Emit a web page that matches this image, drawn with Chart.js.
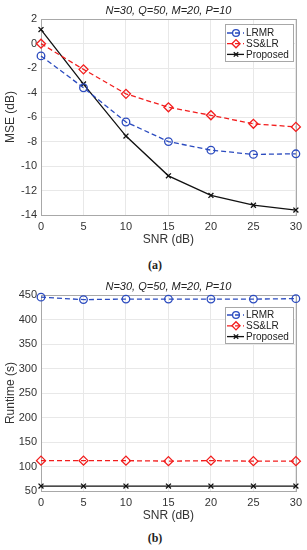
<!DOCTYPE html>
<html><head><meta charset="utf-8">
<script src="https://cdn.jsdelivr.net/npm/chart.js@4"></script>
<style>
html,body{margin:0;padding:0;background:#fff;width:307px;height:550px;overflow:hidden}
.wrap{position:absolute;left:0;width:307px}
.cap{position:absolute;left:0;width:310px;text-align:center;font:bold 12px "Liberation Serif","DejaVu Serif",serif;color:#222;line-height:14px}
</style></head><body>
<div class="wrap" style="top:0;height:248px"><canvas id="ca" width="307" height="248"></canvas></div>
<div class="cap" style="top:258px">(a)</div>
<div class="wrap" style="top:276px;height:248px"><canvas id="cb" width="307" height="248"></canvas></div>
<div class="cap" style="top:531px">(b)</div>
<script>
const snr = [0, 5, 10, 15, 20, 25, 30];
const seriesNames = ['LRMR', 'SS&LR', 'Proposed'];
const mseLRMR = [-1.0, -3.6, -6.4, -8.0, -8.7, -9.05, -9.0];
const mseSSLR = [0.0, -2.1, -4.1, -5.2, -5.85, -6.55, -6.8];
const mseProposed = [1.15, -3.3, -7.55, -10.8, -12.4, -13.2, -13.6];
const rtLRMR = [446, 441, 442, 442, 442, 442, 443];
const rtSSLR = [112, 112, 112, 111, 112, 111, 111];
const rtProposed = [60, 60, 60, 60, 60, 60, 60];
const titleText = 'N=30, Q=50, M=20, P=10';

const FONT = '"Liberation Sans", Arial, sans-serif';
const BLUE = '#2b4bbf', RED = '#f21d1d', BLACK = '#111';

function pts(ys){ return snr.map((x,i)=>({x:x, y:ys[i]})); }

function makeDatasets(a, b, c){
  return [
    {label: seriesNames[0], data: pts(a), borderColor: BLUE, backgroundColor: 'rgba(0,0,0,0)', borderWidth: 1.3, borderDash: [5,3],
     pointStyle: 'circle', pointRadius: 3.8, pointBorderWidth: 1.3, pointBorderColor: BLUE, pointBackgroundColor: 'rgba(0,0,0,0)', clip: false},
    {label: seriesNames[1], data: pts(b), borderColor: RED, backgroundColor: 'rgba(0,0,0,0)', borderWidth: 1.3, borderDash: [5,3],
     pointStyle: 'rectRot', pointRadius: 4.5, pointBorderWidth: 1.3, pointBorderColor: RED, pointBackgroundColor: 'rgba(0,0,0,0)', clip: false},
    {label: seriesNames[2], data: pts(c), borderColor: BLACK, backgroundColor: 'rgba(0,0,0,0)', borderWidth: 1.3,
     pointStyle: 'crossRot', pointRadius: 3.5, pointBorderWidth: 1.3, pointBorderColor: BLACK, pointBackgroundColor: 'rgba(0,0,0,0)', clip: false}
  ];
}

const frame = {
  id: 'frame',
  beforeDatasetsDraw(chart){
    const {left, top, right, bottom} = chart.chartArea;
    const ctx = chart.ctx;
    ctx.save();
    ctx.strokeStyle = '#a8a8a8'; ctx.lineWidth = 1;
    ctx.strokeRect(Math.round(left)+0.5, Math.round(top)+0.5, Math.round(right-left), Math.round(bottom-top));
    ctx.restore();
  }
};

const boxLegend = {
  id: 'boxLegend',
  afterDraw(chart, args, o){
    const ctx = chart.ctx;
    ctx.save();
    ctx.fillStyle = '#fff'; ctx.fillRect(o.x, o.y, o.w, o.h);
    ctx.strokeStyle = '#a8a8a8'; ctx.lineWidth = 1; ctx.strokeRect(o.x+0.5, o.y+0.5, o.w, o.h);
    chart.data.datasets.forEach((ds, i) => {
      const cy = o.y + o.top + i*o.gap;
      ctx.strokeStyle = ds.borderColor; ctx.lineWidth = ds.borderWidth;
      ctx.setLineDash(ds.borderDash || []);
      ctx.beginPath(); ctx.moveTo(o.x+2, cy); ctx.lineTo(o.x+19, cy); ctx.stroke();
      ctx.setLineDash([]);
      ctx.strokeStyle = ds.pointBorderColor; ctx.fillStyle = 'rgba(0,0,0,0)';
      ctx.lineWidth = ds.pointBorderWidth;
      Chart.helpers.drawPoint(ctx, {pointStyle: ds.pointStyle, radius: ds.pointRadius*0.9, borderWidth: ds.pointBorderWidth, rotation: 0}, o.x+11, cy);
      ctx.fillStyle = '#222'; ctx.font = '10px ' + FONT; ctx.textBaseline = 'middle'; ctx.textAlign = 'left';
      ctx.fillText(ds.label, o.x+21, cy+0.5);
    });
    ctx.restore();
  }
};

function makeChart(id, datasets, ymin, ymax, ystep, ylabel, legendPos){
  return new Chart(document.getElementById(id), {
    type: 'line',
    data: {datasets},
    plugins: [frame, boxLegend],
    options: {
      responsive: false, animation: false,
      layout: {padding: {left: 0, right: 10, top: 0, bottom: 0}},
      plugins: {
        legend: {display: false},
        tooltip: {enabled: false},
        title: {display: true, text: titleText, fullSize: false, color: '#222',
                font: {family: FONT, size: 11, style: 'italic', weight: 'normal'}, padding: {top: 4, bottom: 2}},
        boxLegend: legendPos
      },
      scales: {
        x: {type: 'linear', min: 0, max: 30,
            ticks: {stepSize: 5, color: '#333', font: {family: FONT, size: 11}, padding: 5},
            grid: {color: '#e8e8e8', drawTicks: false},
            border: {display: true, color: '#a8a8a8'},
            title: {display: true, text: 'SNR (dB)', color: '#333', font: {family: FONT, size: 12}, padding: {top: 0, bottom: 1}},
            afterFit(s){ s.height = 33; }},
        y: {type: 'linear', min: ymin, max: ymax,
            ticks: {stepSize: ystep, color: '#333', font: {family: FONT, size: 11}, padding: 4},
            grid: {color: '#e8e8e8', drawTicks: false},
            border: {display: true, color: '#a8a8a8'},
            title: {display: true, text: ylabel, color: '#333', font: {family: FONT, size: 12}, padding: {top: 3, bottom: 0}},
            afterFit(s){ s.width = 41; }}
      }
    }
  });
}

makeChart('ca', makeDatasets(mseLRMR, mseSSLR, mseProposed), -14, 2, 2, 'MSE (dB)',
  {x: 225, y: 24, w: 68, h: 37, top: 9, gap: 10.7});
makeChart('cb', makeDatasets(rtLRMR, rtSSLR, rtProposed), 50, 450, 50, 'Runtime (s)',
  {x: 225, y: 31, w: 68, h: 36, top: 8, gap: 10.8});
</script>
</body></html>
